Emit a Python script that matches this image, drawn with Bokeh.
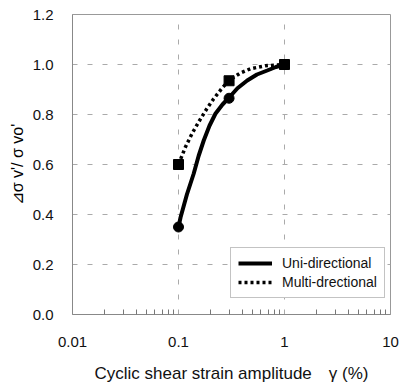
from bokeh.plotting import figure
from bokeh.models import FixedTicker, CustomJSTickFormatter, Legend, LegendItem, Range1d
from bokeh.embed import file_html
from bokeh.resources import INLINE

# measured points
strain = [0.1, 0.3, 1.0]
uni_ratio = [0.35, 0.865, 1.0]
multi_ratio = [0.6, 0.935, 1.0]

# fitted curves
uni_curve_x = [0.1, 0.1045, 0.12, 0.139, 0.155, 0.173, 0.196, 0.223, 0.26, 0.299, 0.36, 0.445, 0.55, 0.687, 0.83, 1.0]
uni_curve_y = [0.35, 0.388, 0.48, 0.563, 0.635, 0.696, 0.755, 0.803, 0.84, 0.867, 0.905, 0.936, 0.96, 0.976, 0.99, 1.0]
multi_curve_x = [0.1, 0.116, 0.135, 0.158, 0.185, 0.215, 0.255, 0.299, 0.38, 0.477, 0.66, 1.0]
multi_curve_y = [0.6, 0.669, 0.726, 0.776, 0.823, 0.863, 0.903, 0.936, 0.965, 0.983, 0.995, 1.0]

x_ticks = [0.01, 0.1, 1, 10]
y_ticks = [0.0, 0.2, 0.4, 0.6, 0.8, 1.0, 1.2]

FONT = "Liberation Sans"

p = figure(width=404, height=392, x_axis_type="log", output_backend="svg",
           toolbar_location=None, x_range=Range1d(0.01, 10), y_range=Range1d(0, 1.2),
           min_border_left=72, min_border_right=14, min_border_top=14, min_border_bottom=78)
p.background_fill_color = "white"
p.border_fill_color = "white"
p.outline_line_color = "#999999"
p.outline_line_width = 1

minor = [m * d for d in [0.01, 0.1, 1] for m in range(2, 10)]
p.xaxis.ticker = FixedTicker(ticks=x_ticks, minor_ticks=minor)
p.xaxis.formatter = CustomJSTickFormatter(code="""
const labels = {"-2": "0.01", "-1": "0.1", "0": "1", "1": "10"};
return labels[String(Math.round(Math.log10(tick)))];
""")
p.yaxis.ticker = FixedTicker(ticks=y_ticks)
p.yaxis.formatter = CustomJSTickFormatter(code="return tick.toFixed(1);")

for ax in (p.xaxis, p.yaxis):
    ax.axis_line_color = "#888888"
    ax.axis_line_width = 1
    ax.major_tick_out = 0
    ax.major_tick_in = 0
    ax.major_label_text_font = FONT
    ax.major_label_text_font_size = "15px"
    ax.major_label_text_color = "#111111"
    ax.axis_label_text_font = FONT
    ax.axis_label_text_font_size = "17px"
    ax.axis_label_text_font_style = "normal"
    ax.axis_label_text_color = "#111111"
p.xaxis.minor_tick_in = 5
p.xaxis.minor_tick_out = 0
p.xaxis.minor_tick_line_color = "#777777"
p.yaxis.minor_tick_line_color = None
p.xaxis.major_label_standoff = 22
p.yaxis.major_label_standoff = 19
p.xaxis.axis_label = "Cyclic shear strain amplitude\u2003\u03b3 (%)"
p.xaxis.axis_label_standoff = 14
p.yaxis.axis_label = "\u22bf\u03c3 v'/ \u03c3 vo'"
p.yaxis.axis_label_standoff = 4
p.yaxis.axis_label_text_font_size = "16px"
p.yaxis.axis_label_text_color = "#000000"

p.xgrid.grid_line_color = "#aaaaaa"
p.ygrid.grid_line_color = "#aaaaaa"
p.xgrid.grid_line_dash = "5 10"
p.ygrid.grid_line_dash = "5 10"
p.xgrid.grid_line_width = 1
p.ygrid.grid_line_width = 1

uni_line = p.line(uni_curve_x, uni_curve_y, line_color="black", line_width=4)
multi_line = p.line(multi_curve_x, multi_curve_y, line_color="black", line_width=3.5,
                    line_dash="3 3")
p.scatter(strain, uni_ratio, marker="circle", size=10, fill_color="black", line_color="black")
p.scatter(strain, multi_ratio, marker="square", size=10, fill_color="black", line_color="black")

legend = Legend(items=[LegendItem(label="Uni-directional", renderers=[uni_line]),
                       LegendItem(label="Multi-drectional", renderers=[multi_line])],
                location=(158, 16))
legend.label_text_font = FONT
legend.label_text_font_size = "14px"
legend.label_text_color = "#111111"
legend.glyph_width = 34
legend.glyph_height = 16
legend.label_height = 16
legend.spacing = 3
legend.padding = 7
legend.margin = 0
legend.label_standoff = 10
legend.border_line_color = "#888888"
legend.border_line_width = 1
legend.background_fill_color = "white"
legend.background_fill_alpha = 1
p.add_layout(legend, "center")

open("out.html", "w").write(file_html(p, INLINE))
